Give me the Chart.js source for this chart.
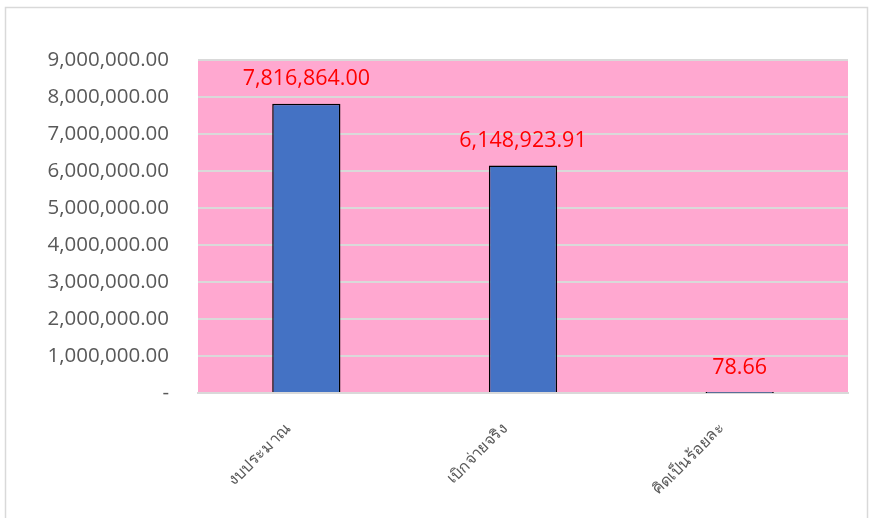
<!DOCTYPE html>
<html>
<head>
<meta charset="utf-8">
<script src="https://cdn.jsdelivr.net/npm/chart.js@4"></script>
<style>
  html, body { margin: 0; padding: 0; background: #fff; }
  #wrap { width: 874px; height: 518px; position: relative; }
</style>
</head>
<body>
<div id="wrap"><canvas id="budgetChart" width="874" height="518"></canvas></div>
<script>
  // categories and values
  var categories = ["งบประมาณ", "เบิกจ่ายจริง", "คิดเป็นร้อยละ"];
  var values = [7816864.00, 6148923.91, 78.66];
  var yTicks = [0, 1000000, 2000000, 3000000, 4000000, 5000000, 6000000, 7000000, 8000000, 9000000];

  function fmt(v) {
    if (v === 0) return "-";
    return v.toLocaleString("en-US", { minimumFractionDigits: 2, maximumFractionDigits: 2 });
  }

  // pink plot area + outer frame
  var bgPlugin = {
    id: "plotBg",
    beforeDraw: function (chart) {
      var c = chart.ctx, a = chart.chartArea;
      c.save();
      c.fillStyle = "#ffffff";
      c.fillRect(0, 0, chart.width, chart.height);
      c.strokeStyle = "#d9d9d9";
      c.lineWidth = 1.5;
      c.strokeRect(5.5, 7.5, 862, 520);
      c.fillStyle = "#ffa8d0";
      c.fillRect(a.left, a.top, a.right - a.left, a.bottom - a.top);
      c.restore();
    }
  };

  // red value labels over each bar
  var labelPlugin = {
    id: "valueLabels",
    afterDatasetsDraw: function (chart) {
      var c = chart.ctx;
      var meta = chart.getDatasetMeta(0);
      c.save();
      c.fillStyle = "#ff0000";
      c.font = "21.5px 'Open Sans', sans-serif";
      c.textAlign = "center";
      c.textBaseline = "middle";
      meta.data.forEach(function (bar, i) {
        c.fillText(fmt(values[i]), bar.x, bar.y - 25);
      });
      c.restore();
    }
  };

  var ctx = document.getElementById("budgetChart").getContext("2d");
  new Chart(ctx, {
    type: "bar",
    data: {
      labels: categories,
      datasets: [{
        data: values,
        backgroundColor: "#4472c4",
        borderColor: "#000000",
        borderWidth: 1.5,
        categoryPercentage: 1,
        barPercentage: 0.315
      }]
    },
    options: {
      responsive: false,
      animation: false,
      layout: { padding: { left: 10, top: 60, right: 26, bottom: 0 } },
      plugins: { legend: { display: false }, tooltip: { enabled: false } },
      scales: {
        x: {
          grid: { display: false, drawTicks: false },
          border: { color: "#d9d9d9", width: 2 },
          ticks: {
            color: "#595959",
            font: { size: 16, family: "'Noto Sans', sans-serif" },
            minRotation: 45,
            maxRotation: 45,
            padding: 26,
            labelOffset: -18
          },
          afterFit: function (s) { s.height = 125; }
        },
        y: {
          min: 0,
          max: 9000000,
          afterBuildTicks: function (s) { s.ticks = yTicks.map(function (v) { return { value: v }; }); },
          grid: { color: "#d9d9d9", lineWidth: 2, drawTicks: false },
          border: { display: false },
          ticks: {
            color: "#595959",
            font: { size: 20.5, family: "'Open Sans', sans-serif" },
            padding: 29,
            callback: function (v) { return fmt(v); }
          },
          afterFit: function (s) { s.width = 188; }
        }
      }
    },
    plugins: [bgPlugin, labelPlugin]
  });
</script>
</body>
</html>
